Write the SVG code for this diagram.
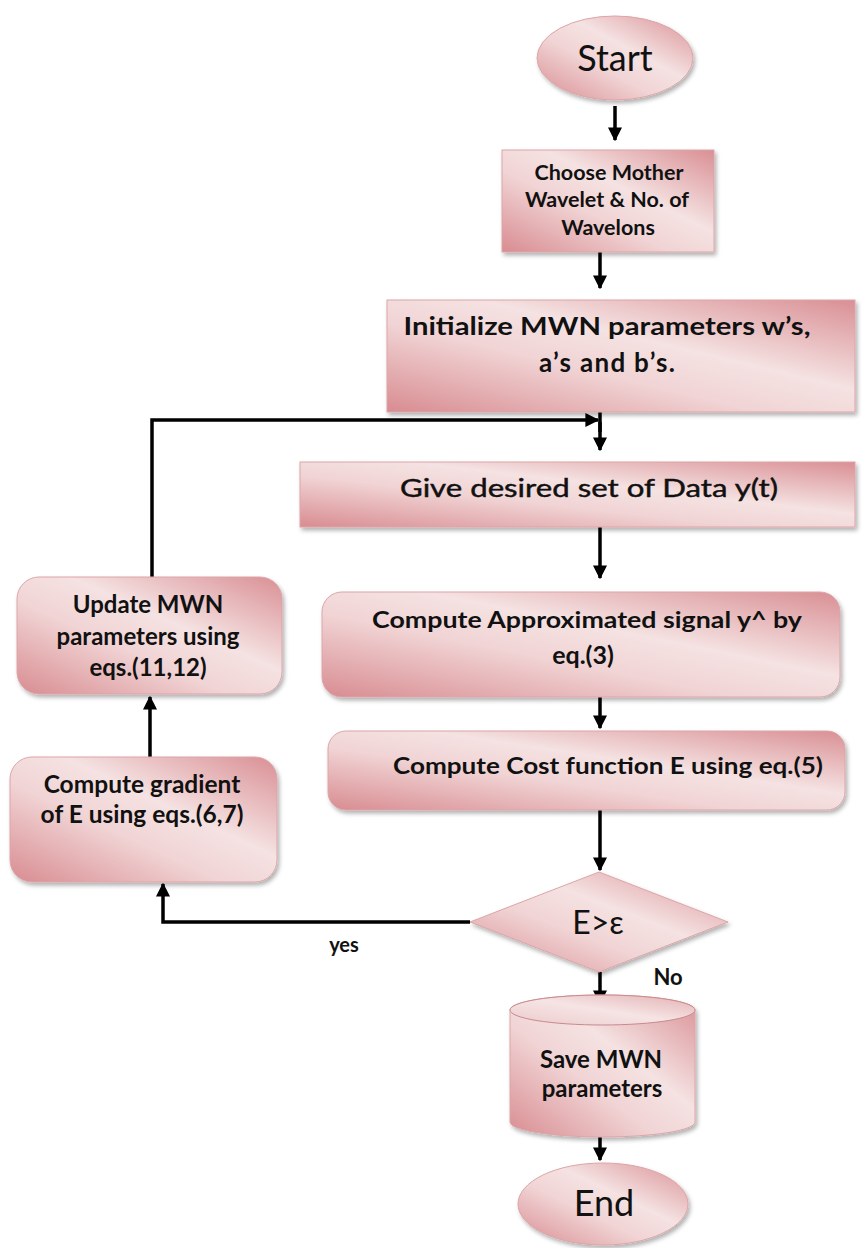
<svg xmlns="http://www.w3.org/2000/svg" width="866" height="1248" viewBox="0 0 866 1248">
<defs>
<linearGradient id="pink" x1="0" y1="1" x2="1" y2="0">
<stop offset="0" stop-color="#d88c91"/>
<stop offset="0.4" stop-color="#f1d4d5"/>
<stop offset="0.6" stop-color="#f5e2e2"/>
<stop offset="1" stop-color="#d98f94"/>
</linearGradient>
<linearGradient id="pinkTop" x1="0" y1="1" x2="1" y2="0">
<stop offset="0" stop-color="#eccacc"/>
<stop offset="0.5" stop-color="#f6e4e4"/>
<stop offset="1" stop-color="#e3b0b3"/>
</linearGradient>
<filter id="sh" x="-10%" y="-10%" width="125%" height="130%">
<feDropShadow dx="2" dy="3" stdDeviation="2" flood-color="#000" flood-opacity="0.3"/>
</filter>
<marker id="ah" viewBox="0 0 10 10" refX="9" refY="5" markerWidth="4" markerHeight="4" orient="auto" markerUnits="strokeWidth">
<path d="M0,0 L10,5 L0,10 Z" fill="#000"/>
</marker>
</defs>
<style>
.shape{fill:url(#pink);stroke:#dca5a8;stroke-width:1;filter:url(#sh)}
.t{font-family:Lato,"Open Sans","Liberation Sans",sans-serif;fill:#111;text-anchor:middle}
.b{font-weight:bold}
.m{stroke:#111;stroke-width:0.45}
.c{fill:none;stroke:#000;stroke-width:3.5}
.ca{fill:none;stroke:#000;stroke-width:3.5;marker-end:url(#ah)}
</style>

<g id="connectors">
<line class="ca" x1="615" y1="106" x2="615" y2="140"/>
<line class="ca" x1="600" y1="252" x2="600" y2="288"/>
<line class="c" x1="600" y1="412" x2="600" y2="432"/>
<line class="ca" x1="600" y1="422" x2="600" y2="450"/>
<line class="ca" x1="600" y1="527" x2="600" y2="578"/>
<line class="ca" x1="600" y1="697" x2="600" y2="728"/>
<line class="ca" x1="600" y1="810" x2="600" y2="870"/>
<line class="ca" x1="600" y1="972" x2="600" y2="1003"/>
<line class="ca" x1="600" y1="1137" x2="600" y2="1160"/>
<polyline class="ca" points="470,922 163,922 163,884"/>
<line class="ca" x1="150" y1="757" x2="150" y2="697"/>
<polyline class="ca" points="152,577 152,420 598,420"/>
</g>

<g id="start">
<ellipse class="shape" cx="615" cy="58" rx="78" ry="42"/>
<text class="t" x="615" y="71" font-size="36">Start</text>
</g>

<g id="choose">
<rect class="shape" x="502" y="150" width="212" height="102"/>
<text class="t b" x="609" y="180" font-size="21.5">Choose Mother</text>
<text class="t b" x="607" y="207" font-size="21.5">Wavelet &amp; No. of</text>
<text class="t b" x="608" y="235" font-size="21.5">Wavelons</text>
</g>

<g id="init">
<rect class="shape" x="387" y="300" width="468" height="112"/>
<text class="t b" x="607" y="335" font-size="25" textLength="407" lengthAdjust="spacingAndGlyphs">Initialize MWN parameters w’s,</text>
<text class="t b" x="607" y="372" font-size="26" textLength="136" lengthAdjust="spacing">a’s and b’s.</text>
</g>

<g id="give">
<rect class="shape" x="300" y="462" width="555" height="65"/>
<text class="t m" x="589" y="497" font-size="25" textLength="378" lengthAdjust="spacingAndGlyphs">Give desired set of Data y(t)</text>
</g>

<g id="approx">
<rect class="shape" x="322" y="592" width="518" height="105" rx="20" ry="20"/>
<text class="t b" x="587" y="628" font-size="22.5" textLength="430" lengthAdjust="spacingAndGlyphs">Compute Approximated signal y^ by</text>
<text class="t b" x="583" y="664" font-size="25">eq.(3)</text>
</g>

<g id="cost">
<rect class="shape" x="328" y="731" width="517" height="79" rx="18" ry="18"/>
<text class="t b" x="608" y="774" font-size="22.5" textLength="430" lengthAdjust="spacingAndGlyphs">Compute Cost function E using eq.(5)</text>
</g>

<g id="decision">
<polygon class="shape" points="599,872 728,922 599,972 470,922"/>
<text class="t" x="598" y="934" font-size="32">E&gt;ε</text>
</g>

<g id="gradient">
<rect class="shape" x="10" y="757" width="267" height="125" rx="22" ry="22"/>
<text class="t b" x="142" y="793" font-size="24.5">Compute gradient</text>
<text class="t b" x="142" y="823" font-size="24.5">of E using eqs.(6,7)</text>
</g>

<g id="update">
<rect class="shape" x="17" y="577" width="265" height="117" rx="22" ry="22"/>
<text class="t b" x="148" y="613" font-size="24">Update MWN</text>
<text class="t b" x="148" y="645" font-size="24">parameters using</text>
<text class="t b" x="148" y="676" font-size="24">eqs.(11,12)</text>
</g>

<g id="save">
<path class="shape" d="M510,1010 L510,1122 A92.5,15 0 0 0 695,1122 L695,1010 A92.5,15 0 0 0 510,1010 Z"/>
<ellipse cx="602.5" cy="1010" rx="92.5" ry="15" fill="url(#pinkTop)" stroke="#c98a8e" stroke-width="1"/>
<text class="t b" x="601" y="1068" font-size="24">Save MWN</text>
<text class="t b" x="602" y="1097" font-size="24">parameters</text>
</g>

<g id="end">
<ellipse class="shape" cx="603" cy="1204" rx="85" ry="41"/>
<text class="t" x="604" y="1216" font-size="36">End</text>
</g>

<g id="labels">
<text class="t b" x="668" y="985" font-size="22">No</text>
<text class="t b" x="344" y="952" font-size="20">yes</text>
</g>
</svg>
